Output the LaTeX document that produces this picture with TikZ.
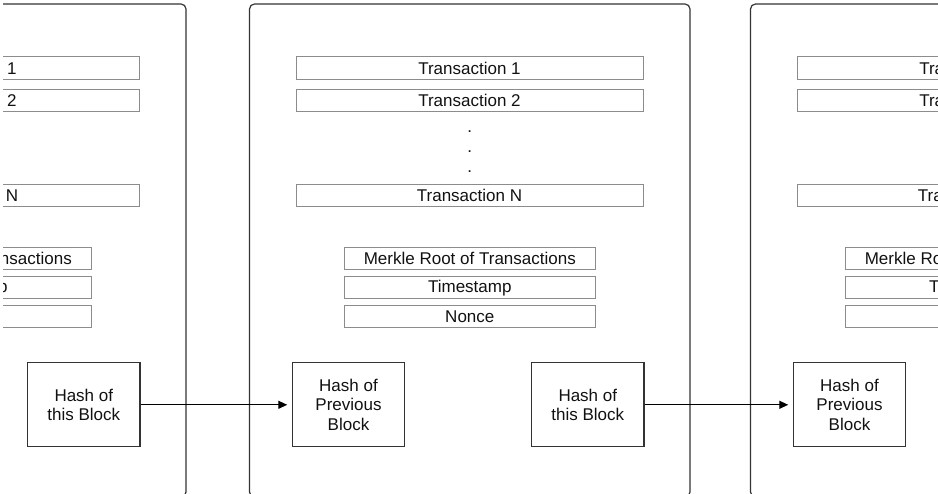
\documentclass[tikz,border=0pt]{standalone}
\usepackage{fontspec}
\setmainfont{Liberation Sans}
\usetikzlibrary{arrows.meta}
\definecolor{boxgray}{HTML}{8C8C8C}
\definecolor{darkline}{HTML}{333333}
\definecolor{txt}{HTML}{111111}
\tikzset{
  basefont/.style={text=txt, font=\fontsize{17}{19.5}\selectfont},
  blockframe/.style={draw=darkline, line width=1.2pt, rounded corners=5pt},
  txbox/.style={basefont, draw=boxgray, line width=1pt, inner sep=0pt, minimum width=347pt, minimum height=22.4pt},
  hdrbox/.style={basefont, draw=boxgray, line width=1pt, inner sep=0pt, minimum width=251pt, minimum height=22.6pt},
  hashbox/.style={basefont, draw=darkline, line width=1.1pt, inner sep=0pt, minimum width=112.4pt, minimum height=84.3pt, align=center},
  dotlabel/.style={basefont, inner sep=0pt},
  link/.style={draw=black, line width=1.3pt, -{Triangle[length=9pt,width=8pt]}, shorten >=4.5pt}
}
\begin{document}
\begin{tikzpicture}[x=1pt,y=-1pt]
\useasboundingbox (0,0) rectangle (938,494);
\clip (3,0) rectangle (938,494);
\foreach \o/\p in {-504/L, 0/M, 501/R}{
  \begin{scope}[xshift=\o pt]
    \draw[blockframe] (249.5,4) rectangle (690,497);
    \node[txbox] (\p t1) at (469.5,68) {Transaction 1};
    \node[txbox] (\p t2) at (469.5,100.5) {Transaction 2};
    \node[dotlabel] (\p d1) at (469.8,131.5) {.};
    \node[dotlabel] (\p d2) at (469.8,151.5) {.};
    \node[dotlabel] (\p d3) at (469.8,171.5) {.};
    \node[txbox] (\p tn) at (469.5,195.5) {Transaction N};
    \node[hdrbox] (\p mr) at (469.8,258.7) {Merkle Root of Transactions};
    \node[hdrbox] (\p ts) at (469.8,287.7) {Timestamp};
    \node[hdrbox] (\p nc) at (469.8,316.4) {Nonce};
    \node[hashbox] (\p prev) at (348.5,404.8) {Hash of\\Previous\\Block};
    \node[hashbox] (\p this) at (587.8,404.8) {Hash of\\this Block};
  \end{scope}
}
\draw[link] (Lthis.east) -- (Mprev.west);
\draw[link] (Mthis.east) -- (Rprev.west);
\end{tikzpicture}
\end{document}
